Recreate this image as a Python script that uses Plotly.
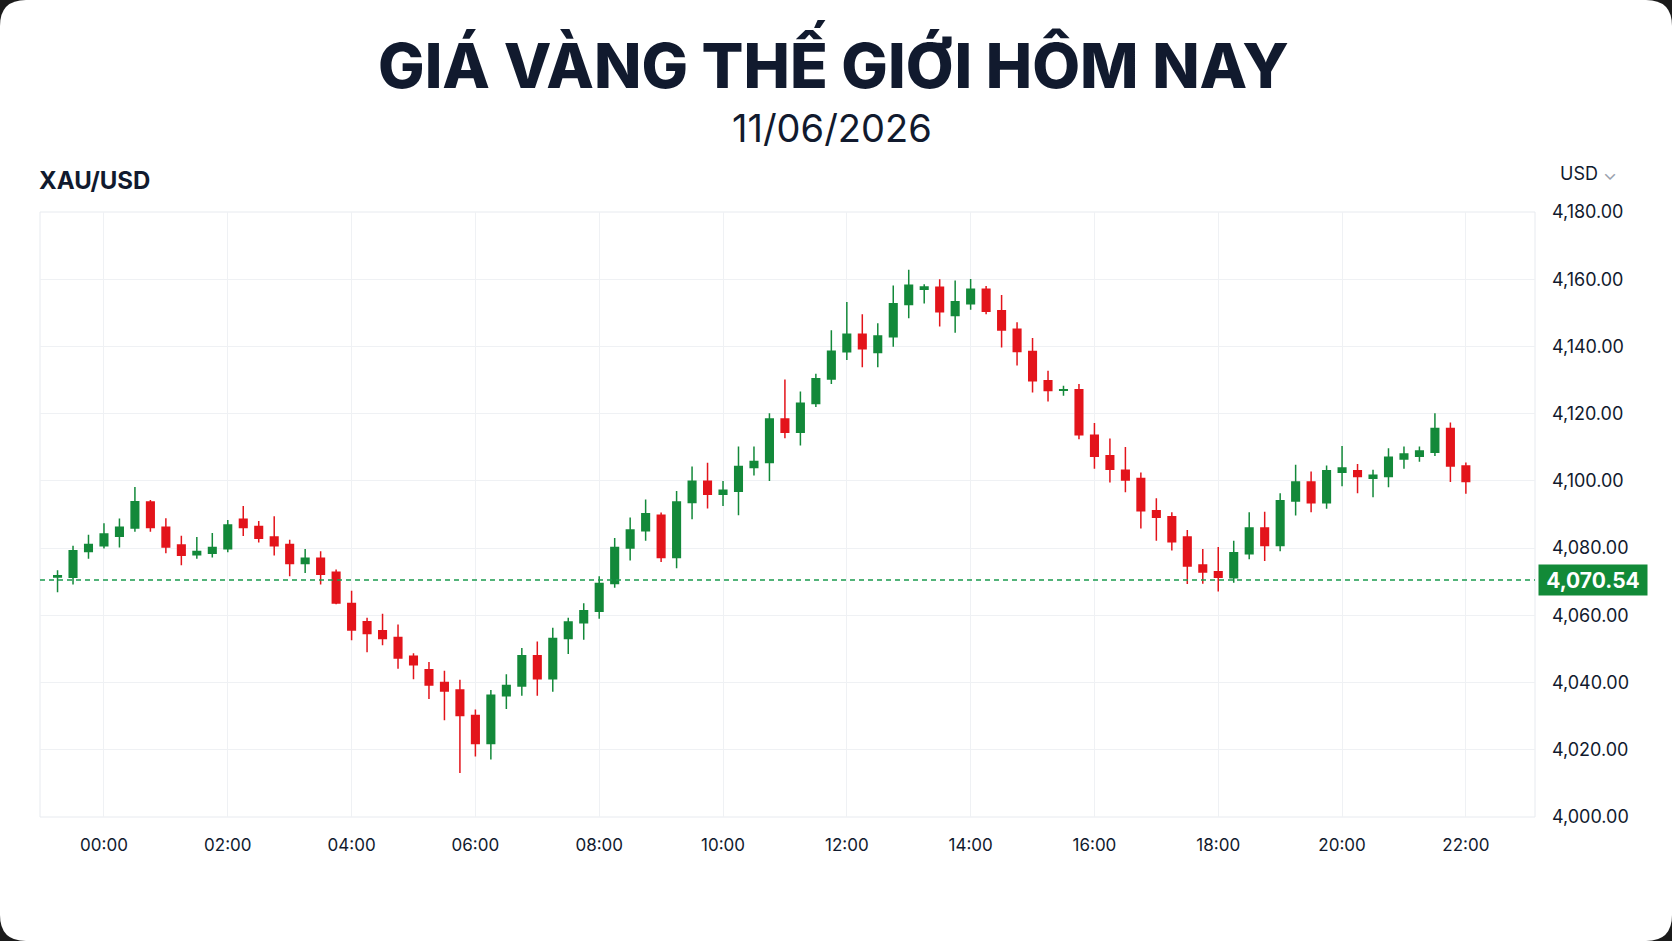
import pandas as pd
import plotly.graph_objects as go

# nến 15 phút XAU/USD
times = pd.date_range("2026-06-10 23:15", periods=92, freq="15min")

opens = [4071.4, 4071.3, 4079.0, 4080.7, 4083.5, 4086.0, 4093.7, 4086.2, 4080.9, 4078.0,
         4078.5, 4079.8, 4088.6, 4086.4, 4083.3, 4081.1, 4075.4, 4077.0, 4072.8, 4063.5,
         4058.1, 4055.4, 4053.4, 4047.8, 4043.8, 4040.0, 4037.8, 4030.2, 4021.9, 4036.1,
         4039.0, 4048.0, 4041.1, 4053.1, 4057.8, 4061.2, 4069.5, 4080.0, 4085.2, 4089.8,
         4077.2, 4093.6, 4099.9, 4096.0, 4096.9, 4104.0, 4105.5, 4118.4, 4114.5, 4123.0,
         4130.3, 4138.4, 4143.6, 4138.2, 4142.9, 4152.5, 4157.0, 4157.6, 4149.2, 4152.7,
         4157.0, 4150.6, 4145.1, 4138.5, 4129.8, 4127.0, 4127.1, 4113.6, 4107.5, 4103.2,
         4100.7, 4091.1, 4089.3, 4083.3, 4075.0, 4073.0, 4071.2, 4078.3, 4086.0, 4080.8,
         4094.0, 4099.7, 4093.5, 4102.6, 4103.0, 4100.8, 4101.3, 4106.5, 4107.3, 4108.5,
         4115.6, 4104.4]
highs = [4073.4, 4080.7, 4084.0, 4087.4, 4088.8, 4098.2, 4094.3, 4088.9, 4083.7, 4083.3,
         4084.5, 4088.4, 4092.5, 4088.1, 4089.5, 4082.5, 4079.7, 4079.1, 4073.6, 4067.3,
         4059.3, 4060.5, 4057.3, 4048.7, 4046.1, 4043.5, 4040.8, 4032.0, 4037.8, 4042.5,
         4050.3, 4052.2, 4056.3, 4059.3, 4063.6, 4071.6, 4083.0, 4089.1, 4094.5, 4090.6,
         4097.0, 4104.3, 4105.4, 4100.0, 4110.2, 4110.2, 4120.1, 4130.2, 4126.6, 4131.9,
         4144.8, 4153.2, 4149.6, 4146.9, 4158.1, 4162.8, 4158.5, 4160.0, 4159.6, 4160.1,
         4158.0, 4155.3, 4147.2, 4142.5, 4132.8, 4128.3, 4128.8, 4117.2, 4112.6, 4110.1,
         4102.5, 4094.8, 4090.7, 4085.4, 4079.7, 4080.3, 4082.2, 4090.7, 4090.8, 4096.3,
         4104.8, 4102.8, 4104.6, 4110.4, 4105.0, 4103.3, 4109.7, 4110.2, 4110.2, 4120.1,
         4117.4, 4105.5]
lows = [4066.9, 4069.2, 4076.8, 4079.9, 4080.2, 4084.9, 4084.9, 4078.5, 4074.9, 4076.8,
        4077.2, 4078.8, 4083.6, 4081.7, 4077.8, 4071.6, 4072.6, 4069.2, 4063.3, 4052.6,
        4049.0, 4051.1, 4044.1, 4041.0, 4035.1, 4028.8, 4013.1, 4018.0, 4017.1, 4032.1,
        4036.1, 4036.1, 4037.3, 4048.5, 4052.7, 4059.0, 4068.2, 4076.3, 4082.2, 4075.9,
        4074.0, 4088.6, 4091.8, 4092.5, 4089.8, 4101.6, 4100.0, 4112.7, 4110.5, 4122.0,
        4128.8, 4136.0, 4133.8, 4133.8, 4139.9, 4148.4, 4152.8, 4145.9, 4144.1, 4150.9,
        4149.6, 4139.7, 4134.3, 4126.3, 4123.6, 4125.3, 4112.4, 4103.6, 4099.5, 4096.6,
        4085.8, 4082.2, 4079.3, 4069.3, 4069.4, 4067.1, 4069.7, 4076.7, 4076.2, 4079.1,
        4089.7, 4090.7, 4091.7, 4098.4, 4096.3, 4095.1, 4098.1, 4103.6, 4105.7, 4107.4,
        4099.7, 4096.2]
closes = [4071.8, 4079.2, 4081.1, 4084.2, 4086.2, 4093.8, 4086.1, 4080.3, 4077.9, 4079.0,
          4080.2, 4086.9, 4086.1, 4082.9, 4080.7, 4075.4, 4077.0, 4072.2, 4063.7, 4055.6,
          4054.6, 4053.1, 4047.3, 4045.3, 4039.3, 4037.5, 4030.2, 4021.9, 4036.2, 4039.1,
          4048.0, 4041.1, 4053.1, 4058.0, 4061.4, 4069.5, 4080.2, 4085.4, 4090.2, 4077.2,
          4093.7, 4099.9, 4096.0, 4097.2, 4104.3, 4105.8, 4118.4, 4114.5, 4123.1, 4130.4,
          4138.6, 4143.6, 4139.3, 4143.1, 4152.7, 4158.2, 4157.7, 4150.3, 4153.3, 4157.0,
          4150.5, 4144.9, 4138.5, 4129.8, 4126.9, 4127.1, 4113.7, 4107.3, 4103.5, 4100.3,
          4091.1, 4089.2, 4081.9, 4074.7, 4072.9, 4071.3, 4078.6, 4086.0, 4080.8, 4094.1,
          4099.7, 4093.5, 4103.0, 4103.8, 4101.3, 4101.7, 4107.0, 4108.0, 4108.9, 4115.6,
          4104.4, 4099.8]

last_price = 4070.54
y_ticks = [4000, 4020, 4040, 4060, 4080, 4100, 4120, 4140, 4160, 4180]

GREEN = "#13893a"
RED = "#e3141b"
TEXT = "#111a2e"

W, H = 1672, 941
L, R, T, B = 40, 137, 212, 124
pw, ph = W - L - R, H - T - B


def px(x):
    return (x - L) / pw


def py(y):
    return (H - B - y) / ph


fig = go.Figure()
fig.add_trace(go.Candlestick(
    x=times, open=opens, high=highs, low=lows, close=closes,
    increasing=dict(line=dict(color=GREEN, width=1.5), fillcolor=GREEN),
    decreasing=dict(line=dict(color=RED, width=1.5), fillcolor=RED),
    whiskerwidth=0, showlegend=False, hoverinfo="skip"))

# đường giá hiện tại
fig.add_shape(type="line", xref="paper", x0=0, x1=1, yref="y", y0=last_price, y1=last_price,
              line=dict(color="#1a9a4e", width=1.5, dash="5px,4px"))

# thẻ trắng bo góc
r = 26
x0, x1, y0, y1 = px(0), px(W), py(H), py(0)
rx, ry = r / pw, r / ph
card = (f"M {x0+rx},{y0} L {x1-rx},{y0} Q {x1},{y0} {x1},{y0+ry} L {x1},{y1-ry} "
        f"Q {x1},{y1} {x1-rx},{y1} L {x0+rx},{y1} Q {x0},{y1} {x0},{y1-ry} "
        f"L {x0},{y0+ry} Q {x0},{y0} {x0+rx},{y0} Z")
fig.add_shape(type="path", xref="paper", yref="paper", path=card,
              fillcolor="white", line=dict(width=0), layer="below")
fig.add_shape(type="rect", xref="paper", yref="paper", x0=0, x1=1, y0=0, y1=1,
              line=dict(color="#e7eaef", width=1), layer="below")

fig.add_annotation(text="GIÁ VÀNG THẾ GIỚI HÔM NAY", xref="paper", yref="paper",
                   x=px(W / 2 - 2), y=py(62), xanchor="center", yanchor="middle", showarrow=False,
                   font=dict(family="Inter", size=62, weight=800, color=TEXT))
fig.add_annotation(text="11/06/2026", xref="paper", yref="paper",
                   x=px(W / 2 - 4), y=py(128), xanchor="center", yanchor="middle", showarrow=False,
                   font=dict(family="Inter", size=38, color=TEXT))
fig.add_annotation(text="<b>XAU/USD</b>", xref="paper", yref="paper",
                   x=-0.002, y=py(180), xanchor="left", yanchor="middle", showarrow=False,
                   font=dict(family="Inter", size=24, color=TEXT))
fig.add_annotation(text="USD <span style='color:#9aa1ad'>⌄</span>", xref="paper", yref="paper",
                   x=px(1558), y=py(174), xanchor="left", yanchor="middle", showarrow=False,
                   font=dict(family="Inter", size=18, color=TEXT))
fig.add_annotation(text=f"<b>{last_price:,.2f}</b>", xref="paper", yref="y",
                   x=px(1538), y=last_price, xanchor="left", yanchor="middle", showarrow=False,
                   width=106, height=28, bgcolor="#128a38", borderpad=1,
                   font=dict(family="Inter", size=21, color="white"))

fig.update_layout(
    width=W, height=H, margin=dict(l=L, r=R, t=T, b=B),
    paper_bgcolor="#1b1b1b", plot_bgcolor="white",
    font=dict(family="Inter", color=TEXT),
    xaxis=dict(type="date", range=["2026-06-10 22:58", "2026-06-11 23:07"],
               tick0="2026-06-11 00:00", dtick=2 * 3600 * 1000, tickformat="%H:%M",
               rangeslider=dict(visible=False), showgrid=True, gridcolor="#eff1f4",
               zeroline=False, showline=False, ticklabelstandoff=16,
               tickfont=dict(size=17, color=TEXT)),
    yaxis=dict(side="right", range=[4000, 4180], tickvals=y_ticks, tickformat=",.2f",
               showgrid=True, gridcolor="#eff1f4", zeroline=False, showline=False,
               ticklabelstandoff=16, tickfont=dict(size=18, color=TEXT)),
)

fig.write_html("out.html", config={"displayModeBar": False},
               post_script="document.body.style.margin='0px';")
